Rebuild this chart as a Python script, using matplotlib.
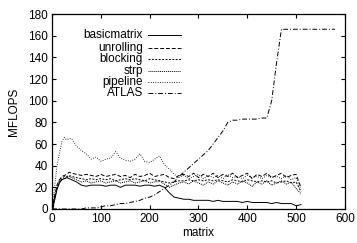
import numpy as np
import matplotlib.pyplot as plt
from matplotlib.lines import Line2D

plt.rcParams['font.family'] = ['Liberation Sans', 'DejaVu Sans']

# matrix sizes
x = [1, 5, 10, 15, 20, 25, 30, 35, 40] + list(range(50, 520, 10))

basicmatrix = [0, 8, 18, 24, 27, 28, 29, 28, 27,
               25, 22, 21, 22, 22, 22, 21, 22, 22, 20,
               22, 22, 22, 21, 22, 22, 21, 22, 20, 15,
               11, 10, 9, 9, 8, 8, 8, 8, 7, 8,
               7, 7, 7, 7, 6, 7, 6, 6, 6, 6,
               5, 6, 5, 5, 5, 3, 4]
unrolling = [0, 12, 22, 27, 30, 31, 32, 34, 33,
             32, 31, 32, 31, 30, 32, 30, 31, 32, 30,
             31, 29, 32, 30, 31, 33, 30, 31, 32, 29,
             28, 31, 32, 30, 33, 29, 32, 30, 33, 29,
             32, 30, 33, 29, 31, 33, 28, 32, 30, 33,
             29, 31, 33, 29, 31, 32, 20]
blocking = [0, 10, 20, 26, 28, 30, 30, 31, 30,
            29, 28, 27, 28, 27, 28, 27, 28, 26, 27,
            28, 27, 28, 27, 26, 28, 27, 26, 25, 24,
            25, 26, 26, 27, 26, 27, 26, 27, 26, 27,
            26, 25, 27, 26, 25, 27, 26, 25, 26, 25,
            26, 24, 25, 26, 24, 25, 16]
strp = [0, 9, 19, 25, 27, 28, 29, 30, 29,
        27, 25, 26, 24, 25, 26, 24, 25, 26, 24,
        25, 26, 24, 25, 26, 24, 25, 26, 23, 20,
        22, 24, 25, 23, 26, 24, 22, 25, 23, 26,
        24, 22, 25, 23, 26, 24, 21, 25, 23, 26,
        22, 24, 26, 23, 25, 19, 14]
pipeline = [0, 20, 40, 52, 62, 66, 64, 65, 65,
            58, 54, 51, 46, 48, 44, 46, 47, 53, 47,
            45, 44, 46, 51, 44, 43, 46, 49, 41, 37,
            32, 29, 31, 28, 30, 32, 28, 31, 29, 31,
            28, 32, 29, 30, 28, 31, 29, 30, 28, 31,
            29, 30, 28, 31, 27, 29, 18]

x_atlas = list(range(0, 590, 10))
atlas = [0, 0, 0, 0, 0, 0, 0, 1, 1, 1,
         2, 3, 3, 4, 5, 5, 6, 7, 8, 10,
         11, 13, 16, 19, 22, 25, 30, 34, 38, 42,
         46, 50, 54, 60, 66, 72, 80, 82, 82, 83,
         83, 83, 83, 84, 84, 100, 135, 166, 166, 166,
         166, 166, 166, 166, 166, 166, 166, 166, 166]

series = [
    ("basicmatrix", x, basicmatrix, '-'),
    ("unrolling", x, unrolling, (0, (4, 2))),
    ("blocking", x, blocking, (0, (2, 1.5))),
    ("strp", x, strp, (0, (1, 1))),
    ("pipeline", x, pipeline, (0, (0.8, 1.6))),
    ("ATLAS", x_atlas, atlas, (0, (5, 2, 1, 2))),
]

fig = plt.figure(figsize=(3.57, 2.43), dpi=100)
ax = fig.add_axes([0.146, 0.140, 0.820, 0.802])

for name, xs, ys, ls in series:
    ax.plot(xs, ys, color='black', lw=0.7, linestyle=ls)

ax.set_xlim(0, 600)
ax.set_ylim(0, 180)
ax.set_xticks(range(0, 700, 100))
ax.set_yticks(range(0, 200, 20))
ax.tick_params(direction='in', length=3, width=0.8, top=True, right=True,
               labelsize=8.5, pad=3)
for s in ax.spines.values():
    s.set_linewidth(0.9)
ax.set_xlabel("matrix", fontsize=8.5, labelpad=1.5)
ax.set_ylabel("MFLOPS", fontsize=8.5, labelpad=6)

# gnuplot style key: right aligned text, sample line to the right
key_y = [0.895, 0.828, 0.769, 0.710, 0.651, 0.595]
for (name, xs, ys, ls), ky in zip(series, key_y):
    ax.text(0.31, ky, name, transform=ax.transAxes, ha='right', va='center',
            fontsize=8.5)
    ax.add_line(Line2D([0.328, 0.44], [ky, ky], transform=ax.transAxes,
                       color='black', lw=0.7, linestyle=ls))

fig.savefig("out.png", dpi=100)
